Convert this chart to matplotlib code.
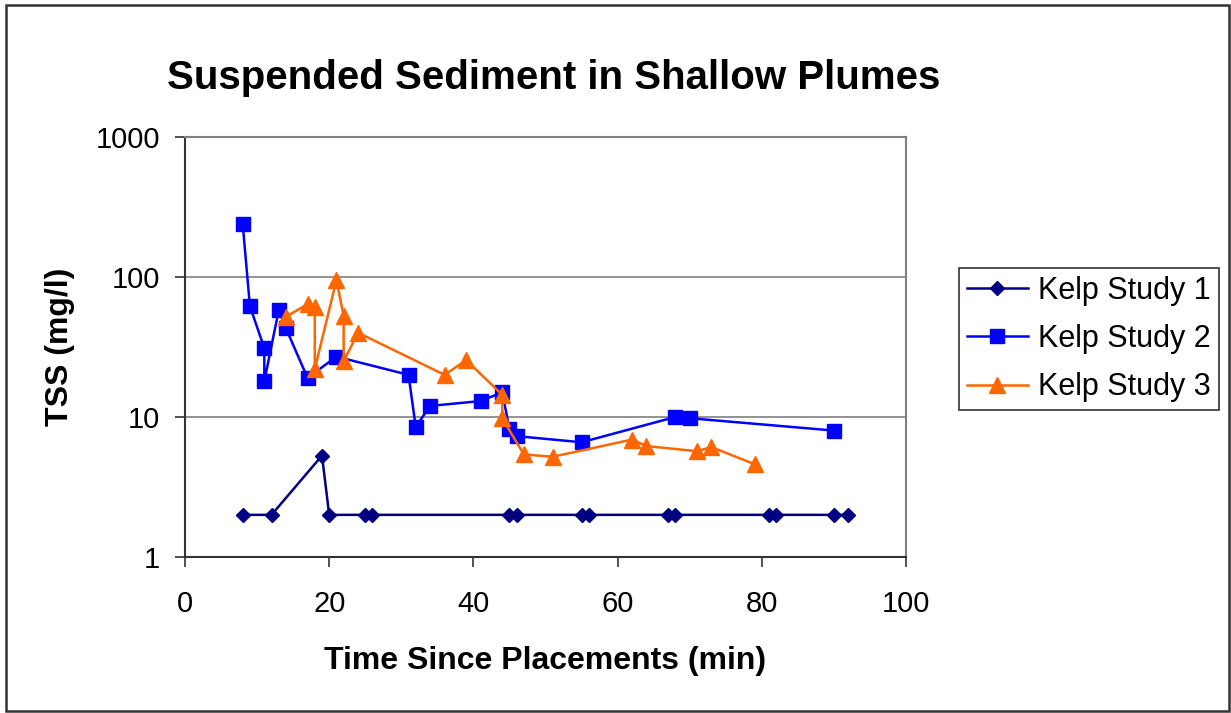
import matplotlib.pyplot as plt
from matplotlib.patches import Rectangle

plt.rcParams['font.family'] = ['Liberation Sans', 'DejaVu Sans']

# Time since placement (min) and TSS (mg/l) for each study
kelp1_time = [8, 12, 19, 20, 25, 26, 45, 46, 55, 56, 67, 68, 81, 82, 90, 92]
kelp1_tss = [2, 2, 5.3, 2, 2, 2, 2, 2, 2, 2, 2, 2, 2, 2, 2, 2]

kelp2_time = [8, 9, 11, 11, 13, 14, 17, 21, 31, 32, 34, 41, 44, 45, 46, 55, 68, 70, 90]
kelp2_tss = [240, 62, 31, 18, 58, 43, 19, 27, 20, 8.5, 12, 13, 15, 8.2, 7.3, 6.6, 10, 9.8, 8.0]

kelp3_time = [14, 17, 18, 18, 21, 22, 22, 24, 36, 39, 44, 44, 47, 51, 62, 64, 71, 73, 79]
kelp3_tss = [52, 64, 61, 22, 95, 53, 25, 40, 20, 25.5, 14.4, 9.8, 5.4, 5.2, 6.9, 6.2, 5.7, 6.1, 4.6]

x_ticks = [0, 20, 40, 60, 80, 100]
y_ticks = [1, 10, 100, 1000]

fig = plt.figure(figsize=(12.31, 7.13), dpi=100)
ax = fig.add_axes([185 / 1231, 1 - 557 / 713, 721 / 1231, 420 / 713])

ax.plot(kelp1_time, kelp1_tss, color='#000080', lw=1.8, marker='D', ms=7,
        mec='#000080', label='Kelp Study 1', zorder=3)
ax.plot(kelp2_time, kelp2_tss, color='#0000FF', lw=1.8, marker='s', ms=10,
        mec='#0000FF', label='Kelp Study 2', zorder=3)
ax.plot(kelp3_time, kelp3_tss, color='#FF6600', lw=1.8, marker='^', ms=11,
        mec='#FF6600', label='Kelp Study 3', zorder=3)

ax.set_yscale('log')
ax.set_xlim(0, 100)
ax.set_ylim(1, 1000)
ax.set_xticks(x_ticks)
ax.set_xticklabels([str(t) for t in x_ticks])
ax.set_yticks(y_ticks)
ax.set_yticklabels([str(t) for t in y_ticks])
ax.minorticks_off()

ax.grid(axis='y', color='#808080', lw=1.2)
ax.set_axisbelow(True)
for side in ['top', 'right']:
    ax.spines[side].set_color('#808080')
    ax.spines[side].set_linewidth(1.5)
for side in ['left', 'bottom']:
    ax.spines[side].set_color('#333333')
    ax.spines[side].set_linewidth(1.5)

ax.tick_params(axis='both', direction='out', length=7, width=1.2,
               color='#333333', labelsize=21)
ax.tick_params(axis='x', pad=17)
ax.tick_params(axis='y', pad=11)

ax.set_xlabel('Time Since Placements (min)', fontsize=23, fontweight='bold',
              labelpad=20)
ax.set_ylabel('TSS (mg/l)', fontsize=23, fontweight='bold', labelpad=15)

fig.text(554 / 1231, 1 - 89 / 713, 'Suspended Sediment in Shallow Plumes',
         fontsize=29, fontweight='bold', ha='center', va='baseline')

leg = fig.legend(loc='upper left', bbox_to_anchor=(959 / 1231, 1 - 268 / 713),
                 fontsize=22, handlelength=2.0, handletextpad=0.35,
                 labelspacing=0.6, borderpad=0.25, borderaxespad=0,
                 fancybox=False, framealpha=1, edgecolor='#333333')
leg.get_frame().set_linewidth(1.2)

# outer chart border
fig.patches.append(Rectangle((6 / 1231, 2 / 713), 1223 / 1231, 706 / 713,
                             transform=fig.transFigure, fill=False,
                             edgecolor='#333333', lw=1.8))

fig.savefig('out.png', dpi=100)
